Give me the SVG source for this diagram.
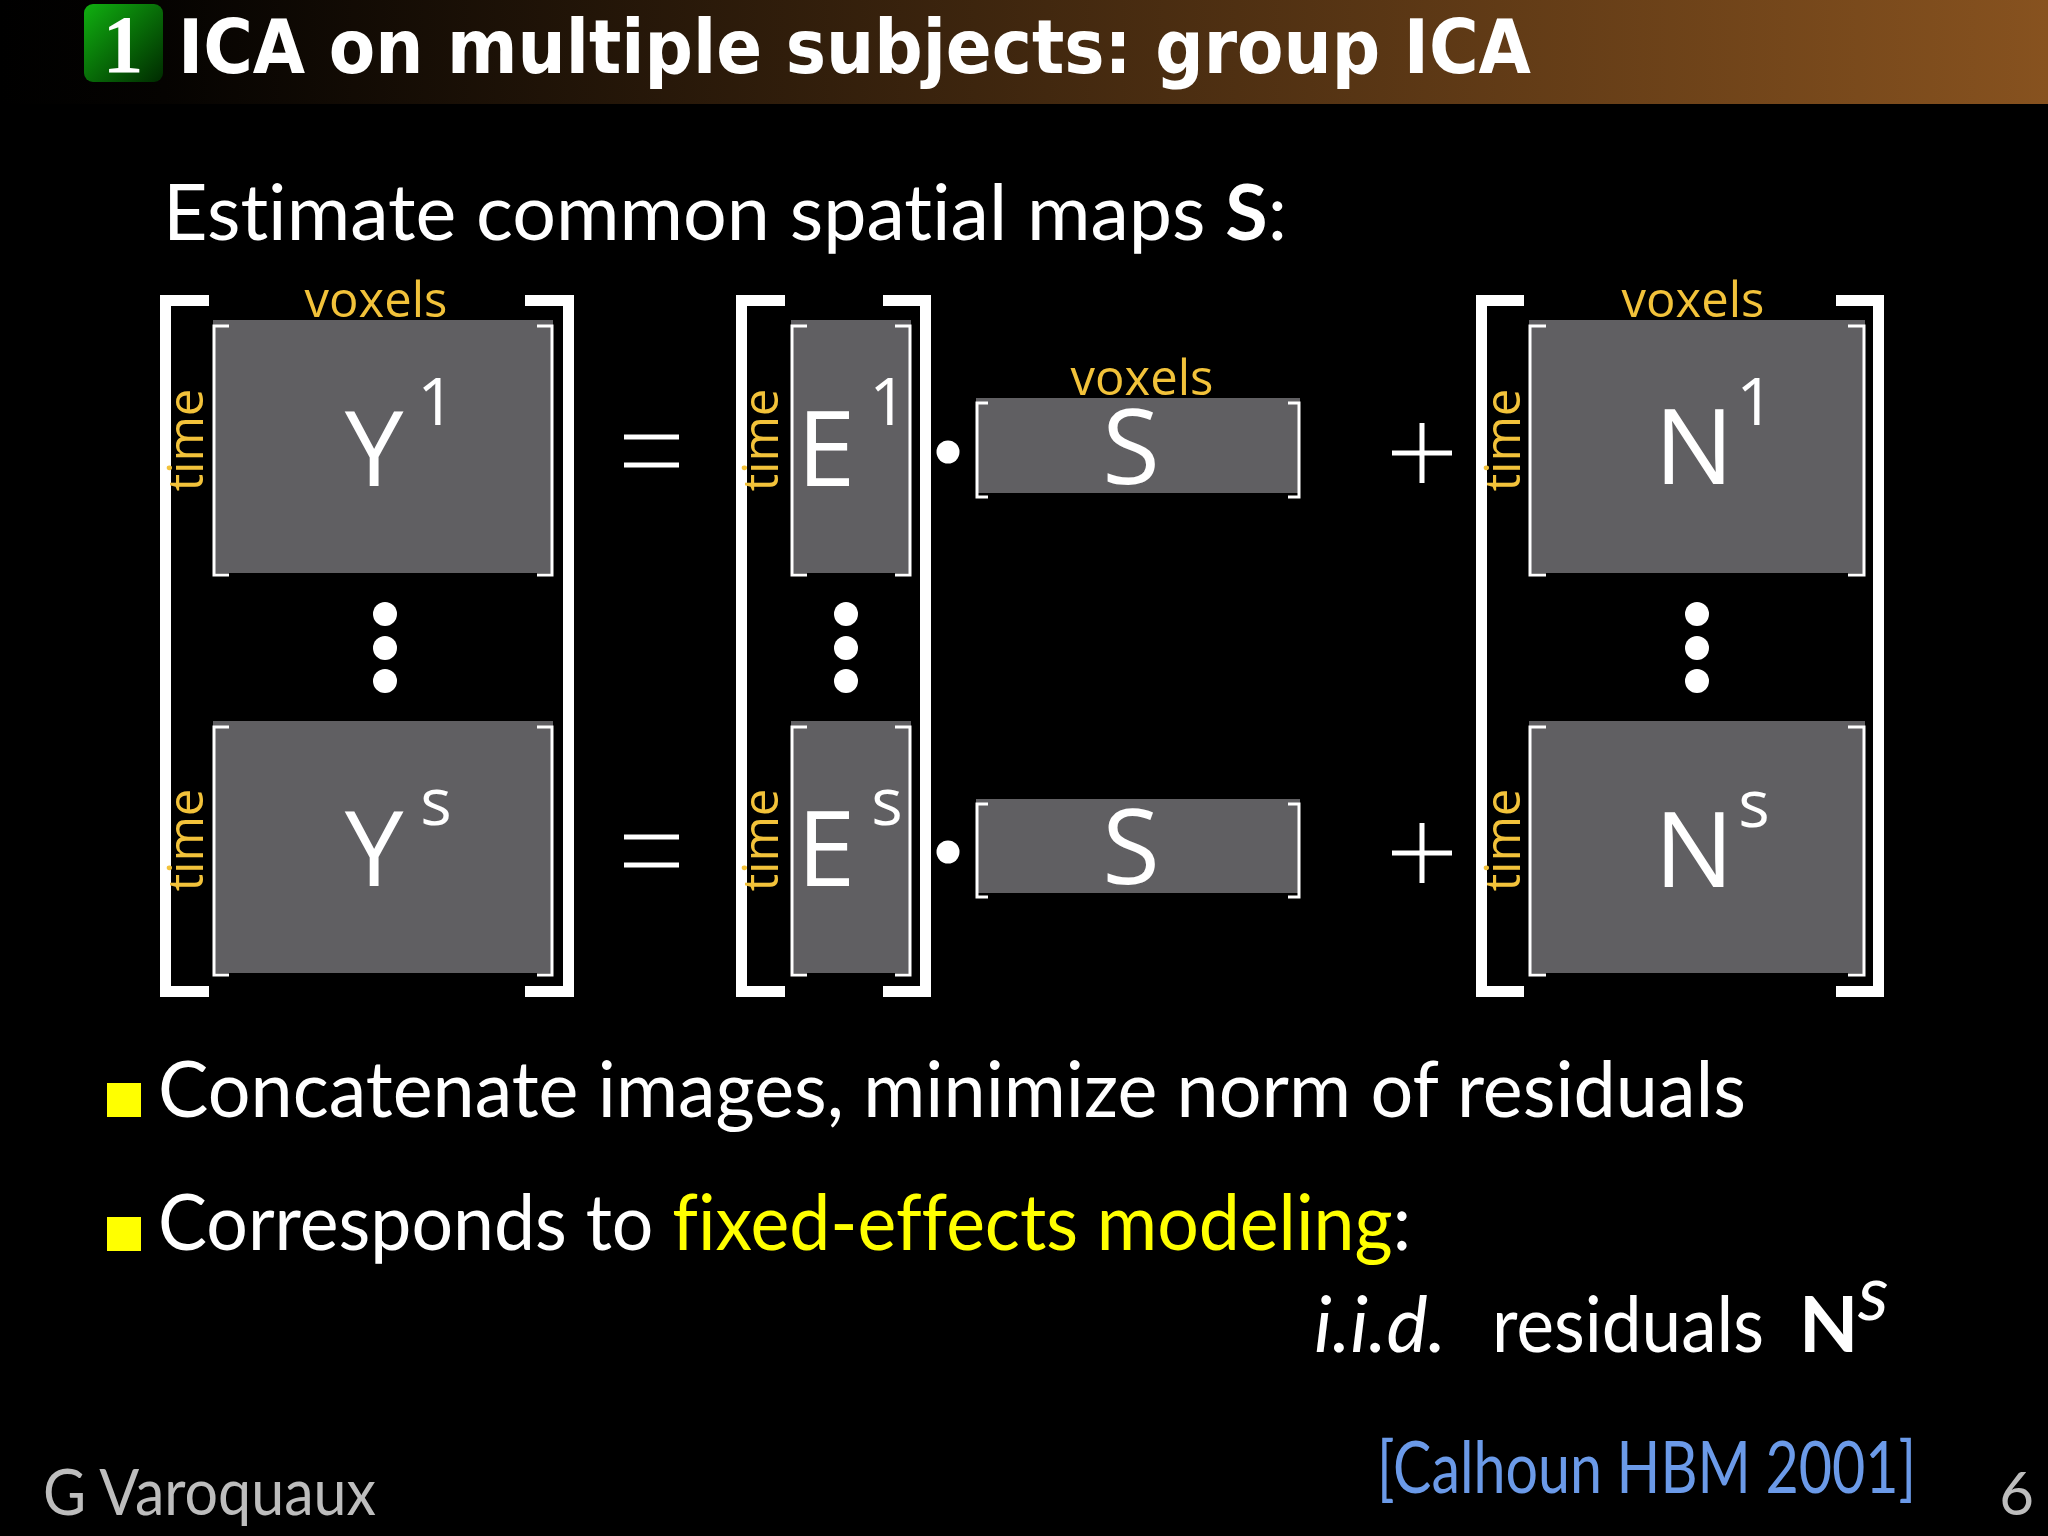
<svg xmlns="http://www.w3.org/2000/svg" width="2048" height="1536" viewBox="0 0 2048 1536">
<defs>
<linearGradient id="bar" x1="0" y1="0" x2="1" y2="0">
<stop offset="0" stop-color="#000000"/>
<stop offset="0.08" stop-color="#050301"/>
<stop offset="1" stop-color="#87521f"/>
</linearGradient>
<linearGradient id="green" x1="0" y1="0" x2="1" y2="1">
<stop offset="0" stop-color="#10b010"/>
<stop offset="1" stop-color="#002a00"/>
</linearGradient>
<style>
text{font-variant-ligatures:none;font-feature-settings:"liga" 0,"clig" 0}
.big{fill:none;stroke:#ffffff;stroke-width:11}
.small{fill:none;stroke:#ffffff;stroke-width:3}
.cell{fill:#605f62}
.sym{font-family:"Open Sans","DejaVu Sans",sans-serif;fill:#ffffff;font-size:105px}
.sup{font-family:"Open Sans","DejaVu Sans",sans-serif;fill:#ffffff;font-size:66px;text-anchor:middle}
.lab{font-family:"Open Sans","DejaVu Sans",sans-serif;fill:#f2c23a;font-size:49px;text-anchor:middle}
.body{font-family:Lato,"DejaVu Sans",sans-serif;fill:#ffffff;font-size:77px}
.op{fill:none;stroke:#ffffff;stroke-width:5}
.dot{fill:#ffffff}
.bul{fill:#ffff00}
</style>
</defs>
<rect x="0" y="0" width="2048" height="1536" fill="#000000"/>
<g id="titlebar">
<rect x="0" y="0" width="2048" height="104" fill="url(#bar)"/>
<rect x="84" y="4" width="79" height="78" rx="9" fill="url(#green)"/>
<text x="123" y="72" font-family="'Liberation Serif',serif" font-weight="bold" font-size="82" fill="#ffffff" text-anchor="middle">1</text>
<text x="178" y="73" font-family="'DejaVu Sans',sans-serif" font-weight="bold" font-size="75" fill="#ffffff" textLength="1353" lengthAdjust="spacingAndGlyphs">ICA on multiple subjects: group ICA</text>
</g>
<g id="heading">
<text class="body" x="163" y="240" textLength="1124" lengthAdjust="spacingAndGlyphs">Estimate common spatial maps <tspan font-weight="bold">S</tspan>:</text>
</g>
<g id="matrix-Y">
<path class="big" d="M209 300.5H165.5V991.5H209M525 300.5H568.5V991.5H525"/>
<rect class="cell" x="213" y="320" width="340" height="253"/>
<rect class="cell" x="213" y="721" width="340" height="252"/>
<path class="small" d="M229 326H214V575H229M537 326H552V575H537"/>
<path class="small" d="M229 727H214V975H229M537 727H552V975H537"/>
<text class="lab" x="376" y="317">voxels</text>
<text class="lab" transform="translate(203,440) rotate(-90)">time</text>
<text class="lab" transform="translate(203,840) rotate(-90)">time</text>
<text class="sym" x="374" y="486" text-anchor="middle">Y</text>
<text class="sup" x="436" y="425">1</text>
<text class="sym" x="374" y="886" text-anchor="middle">Y</text>
<text class="sup" x="436" y="825">s</text>
<circle class="dot" cx="385" cy="614" r="12"/>
<circle class="dot" cx="385" cy="648" r="12"/>
<circle class="dot" cx="385" cy="681" r="12"/>
</g>
<g id="equals">
<path class="op" d="M624 437H679M624 465H679M624 837H679M624 865H679"/>
</g>
<g id="matrix-E">
<path class="big" d="M785 300.5H741.5V991.5H785M883 300.5H925.5V991.5H883"/>
<rect class="cell" x="791" y="320" width="120" height="253"/>
<rect class="cell" x="791" y="721" width="120" height="252"/>
<path class="small" d="M807 326H792V575H807M895 326H910V575H895"/>
<path class="small" d="M807 727H792V975H807M895 727H910V975H895"/>
<text class="lab" transform="translate(778,440) rotate(-90)">time</text>
<text class="lab" transform="translate(778,840) rotate(-90)">time</text>
<text class="sym" x="797" y="486">E</text>
<text class="sup" x="888" y="425">1</text>
<text class="sym" x="797" y="886">E</text>
<text class="sup" x="887" y="825">s</text>
<circle class="dot" cx="846" cy="614" r="12"/>
<circle class="dot" cx="846" cy="648" r="12"/>
<circle class="dot" cx="846" cy="681" r="12"/>
</g>
<g id="products">
<circle class="dot" cx="948" cy="452" r="11.5"/>
<circle class="dot" cx="948" cy="852" r="11.5"/>
</g>
<g id="matrix-S">
<rect class="cell" x="976" y="398" width="324" height="95"/>
<rect class="cell" x="976" y="799" width="324" height="94"/>
<path class="small" d="M988 403H977V497H988M1288 403H1299V497H1288"/>
<path class="small" d="M988 804H977V897H988M1288 804H1299V897H1288"/>
<text class="lab" x="1142" y="395">voxels</text>
<text class="sym" x="1131" y="484" text-anchor="middle">S</text>
<text class="sym" x="1131" y="884" text-anchor="middle">S</text>
</g>
<g id="plus">
<path class="op" d="M1392 453H1452M1422 423V483M1392 853H1452M1422 823V883" stroke-width="4"/>
</g>
<g id="matrix-N">
<path class="big" d="M1524 300.5H1481.5V991.5H1524M1836 300.5H1878.5V991.5H1836"/>
<rect class="cell" x="1529" y="320" width="336" height="253"/>
<rect class="cell" x="1529" y="721" width="336" height="252"/>
<path class="small" d="M1546 326H1530V575H1546M1848 326H1864V575H1848"/>
<path class="small" d="M1546 727H1530V975H1546M1848 727H1864V975H1848"/>
<text class="lab" x="1693" y="317">voxels</text>
<text class="lab" transform="translate(1520,440) rotate(-90)">time</text>
<text class="lab" transform="translate(1520,840) rotate(-90)">time</text>
<text class="sym" x="1694" y="484" text-anchor="middle">N</text>
<text class="sup" x="1755" y="425">1</text>
<text class="sym" x="1694" y="887" text-anchor="middle">N</text>
<text class="sup" x="1754" y="827">s</text>
<circle class="dot" cx="1697" cy="614" r="12"/>
<circle class="dot" cx="1697" cy="648" r="12"/>
<circle class="dot" cx="1697" cy="681" r="12"/>
</g>
<g id="bullets">
<rect class="bul" x="107" y="1083" width="34" height="34"/>
<text class="body" x="158" y="1117" textLength="1588" lengthAdjust="spacingAndGlyphs">Concatenate images, minimize norm of residuals</text>
<rect class="bul" x="107" y="1217" width="34" height="34"/>
<text class="body" x="158" y="1250" textLength="1253" lengthAdjust="spacingAndGlyphs">Corresponds to <tspan fill="#ffff00">fixed-effects modeling</tspan>:</text>
<text class="body" x="1314" y="1352" font-style="italic" textLength="132" lengthAdjust="spacingAndGlyphs">i.i.d.</text>
<text class="body" x="1492" y="1352" textLength="272" lengthAdjust="spacingAndGlyphs">residuals</text>
<text class="body" x="1799" y="1352" font-weight="bold">N</text>
<text class="body" x="1858" y="1320" font-style="italic" font-size="40">s</text>
</g>
<g id="footer">
<text x="1377" y="1493" font-family="Lato,'DejaVu Sans',sans-serif" font-size="72" fill="#6b9ae8" textLength="539" lengthAdjust="spacingAndGlyphs">[Calhoun HBM 2001]</text>
<text x="43" y="1515" font-family="Lato,'DejaVu Sans',sans-serif" font-size="64" fill="#bdbdbd" textLength="333" lengthAdjust="spacingAndGlyphs">G Varoquaux</text>
<text x="2034" y="1515" font-family="Lato,'DejaVu Sans',sans-serif" font-size="60" fill="#bdbdbd" text-anchor="end">6</text>
</g>
</svg>
